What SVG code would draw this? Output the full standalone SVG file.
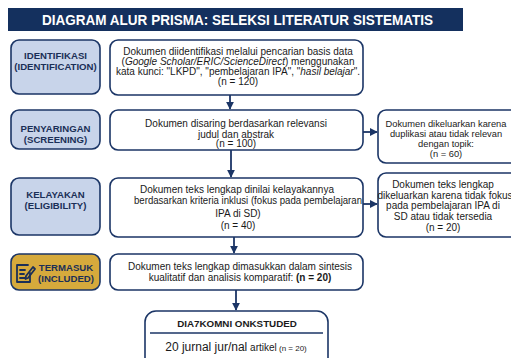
<svg xmlns="http://www.w3.org/2000/svg" width="511" height="358" viewBox="0 0 511 358">
<style>
.t{font-family:"Liberation Sans",Arial,sans-serif;fill:#1a1a1a;font-size:10px;text-anchor:middle}
.s{font-family:"Liberation Sans",Arial,sans-serif;fill:#1a1a1a;font-size:9.3px;text-anchor:middle}
.lb{font-family:"Liberation Sans",Arial,sans-serif;fill:#1b2f57;font-size:9.6px;font-weight:bold;text-anchor:middle}
.box{fill:#fff;stroke:#1b3566;stroke-width:1.6}
.side{fill:#c8d4ea;stroke:#1b3566;stroke-width:1.6}
.gold{fill:#d6aa3c;stroke:#1b3566;stroke-width:1.6}
.ln{stroke:#1b3566;stroke-width:1.8;fill:none}
</style>
<defs>
<marker id="ah" viewBox="0 0 10 10" refX="9" refY="5" markerWidth="4.5" markerHeight="4.5" orient="auto" markerUnits="strokeWidth">
<path d="M0,0 L10,5 L0,10 z" fill="#1b3566"/>
</marker>
</defs>
<rect width="511" height="358" fill="#fff"/>
<g id="title">
<rect x="8" y="8" width="455" height="23" fill="#14305e"/>
<text x="237.5" y="25" font-family="Liberation Sans,Arial,sans-serif" font-size="14" font-weight="bold" fill="#fff" text-anchor="middle" textLength="391" lengthAdjust="spacingAndGlyphs">DIAGRAM ALUR PRISMA: SELEKSI LITERATUR SISTEMATIS</text>
</g>
<g id="connectors">
<line class="ln" x1="230" y1="95" x2="230" y2="109" marker-end="url(#ah)"/>
<line class="ln" x1="231" y1="150" x2="231" y2="177" marker-end="url(#ah)"/>
<line class="ln" x1="234" y1="237" x2="234" y2="253" marker-end="url(#ah)"/>
<line class="ln" x1="236" y1="290" x2="236" y2="310" marker-end="url(#ah)"/>
<line class="ln" x1="363" y1="132" x2="377" y2="132" marker-end="url(#ah)"/>
<line class="ln" x1="363" y1="204" x2="377" y2="204" marker-end="url(#ah)"/>
</g>
<g id="lbl-identifikasi">
<rect class="side" x="11" y="40" width="89" height="54" rx="8"/>
<text class="lb" x="55.5" y="59">IDENTIFIKASI</text>
<text class="lb" x="55.5" y="70">(IDENTIFICATION)</text>
</g>
<g id="box-identifikasi">
<rect class="box" x="110" y="40" width="253" height="55" rx="8"/>
<text class="t" x="238" y="54.5">Dokumen diidentifikasi melalui pencarian basis data</text>
<text class="t" x="238" y="64.5">(<tspan font-style="italic">Google Scholar/ERIC/ScienceDirect</tspan>) menggunakan</text>
<text class="t" x="238" y="74.5">kata kunci: "LKPD", "pembelajaran IPA", "<tspan font-style="italic">hasil belajar</tspan>".</text>
<text class="t" x="238" y="84.5">(n = 120)</text>
</g>
<g id="lbl-penyaringan">
<rect class="side" x="11" y="110" width="89" height="39" rx="8"/>
<text class="lb" x="55.5" y="132">PENYARINGAN</text>
<text class="lb" x="55.5" y="143">(SCREENING)</text>
</g>
<g id="box-penyaringan">
<rect class="box" x="110" y="110" width="253" height="40" rx="8"/>
<text class="t" x="236" y="127" font-size="10.3">Dokumen disaring berdasarkan relevansi</text>
<text class="t" x="236" y="137.5" font-size="10.3">judul dan abstrak</text>
<text class="t" x="236" y="147" font-size="10.3">(n = 100)</text>
</g>
<g id="excl-screening">
<rect class="box" x="378" y="110" width="140" height="53" rx="8"/>
<text class="s" x="446" y="127">Dokumen dikeluarkan karena</text>
<text class="s" x="446" y="137">duplikasi atau tidak relevan</text>
<text class="s" x="446" y="147">dengan topik:</text>
<text class="s" x="446" y="157">(n = 60)</text>
</g>
<g id="lbl-kelayakan">
<rect class="side" x="11" y="178" width="89" height="57" rx="8"/>
<text class="lb" x="55.5" y="198">KELAYAKAN</text>
<text class="lb" x="55.5" y="209">(ELIGIBILITY)</text>
</g>
<g id="box-kelayakan">
<rect class="box" x="110" y="178" width="253" height="59" rx="8"/>
<text class="t" x="237" y="193" font-size="10.5">Dokumen teks lengkap dinilai kelayakannya</text>
<text class="t" x="248" y="204" font-size="10.5" textLength="228" lengthAdjust="spacingAndGlyphs">berdasarkan kriteria inklusi (fokus pada pembelajaran</text>
<text class="t" x="238" y="217" font-size="10.5">IPA di SD)</text>
<text class="t" x="238" y="229" font-size="10.5">(n = 40)</text>
</g>
<g id="excl-eligibility">
<rect class="box" x="378" y="173" width="140" height="64" rx="8"/>
<text class="t" x="443" y="188">Dokumen teks lengkap</text>
<text class="t" x="445" y="198.5">dikeluarkan karena tidak fokus</text>
<text class="t" x="443" y="209">pada pembelajaran IPA di</text>
<text class="t" x="443" y="220">SD atau tidak tersedia</text>
<text class="t" x="443" y="230.5">(n = 20)</text>
</g>
<g id="lbl-termasuk">
<rect class="gold" x="11" y="254" width="89" height="36" rx="8"/>
<g fill="none" stroke="#1b2f57" stroke-width="1.8" stroke-linejoin="round" stroke-linecap="round">
<path d="M28,265 H17 V282 H30 V273"/>
<path d="M20,270 H25 M20,274 H24 M20,278 H25"/>
<path d="M26,276 L33,267 L35,269 L28,278 L25.5,279 Z"/>
</g>
<text class="lb" x="66" y="271">TERMASUK</text>
<text class="lb" x="66" y="282">(INCLUDED)</text>
</g>
<g id="box-termasuk">
<rect class="box" x="110" y="254" width="253" height="36" rx="8"/>
<text class="t" x="240" y="270" font-size="10.3">Dokumen teks lengkap dimasukkan dalam sintesis</text>
<text class="t" x="240" y="280.5" font-size="10.3">kualitatif dan analisis komparatif: <tspan font-weight="bold">(n = 20)</tspan></text>
</g>
<g id="box-studied">
<rect class="box" x="145" y="311" width="183" height="60" rx="11"/>
<text x="237" y="327" font-family="Liberation Sans,Arial,sans-serif" font-size="9.8" font-weight="bold" fill="#1a1a1a" text-anchor="middle">DIA7KOMNI ONKSTUDED</text>
<line x1="150" y1="333" x2="323" y2="333" stroke="#1b3566" stroke-width="1.4"/>
<text x="236" y="351" font-family="Liberation Sans,Arial,sans-serif" fill="#1a1a1a" text-anchor="middle"><tspan font-size="12">20 jurnal jur/nal</tspan><tspan font-size="10"> artikel</tspan><tspan font-size="8"> (n = 20)</tspan></text>
</g>
</svg>
